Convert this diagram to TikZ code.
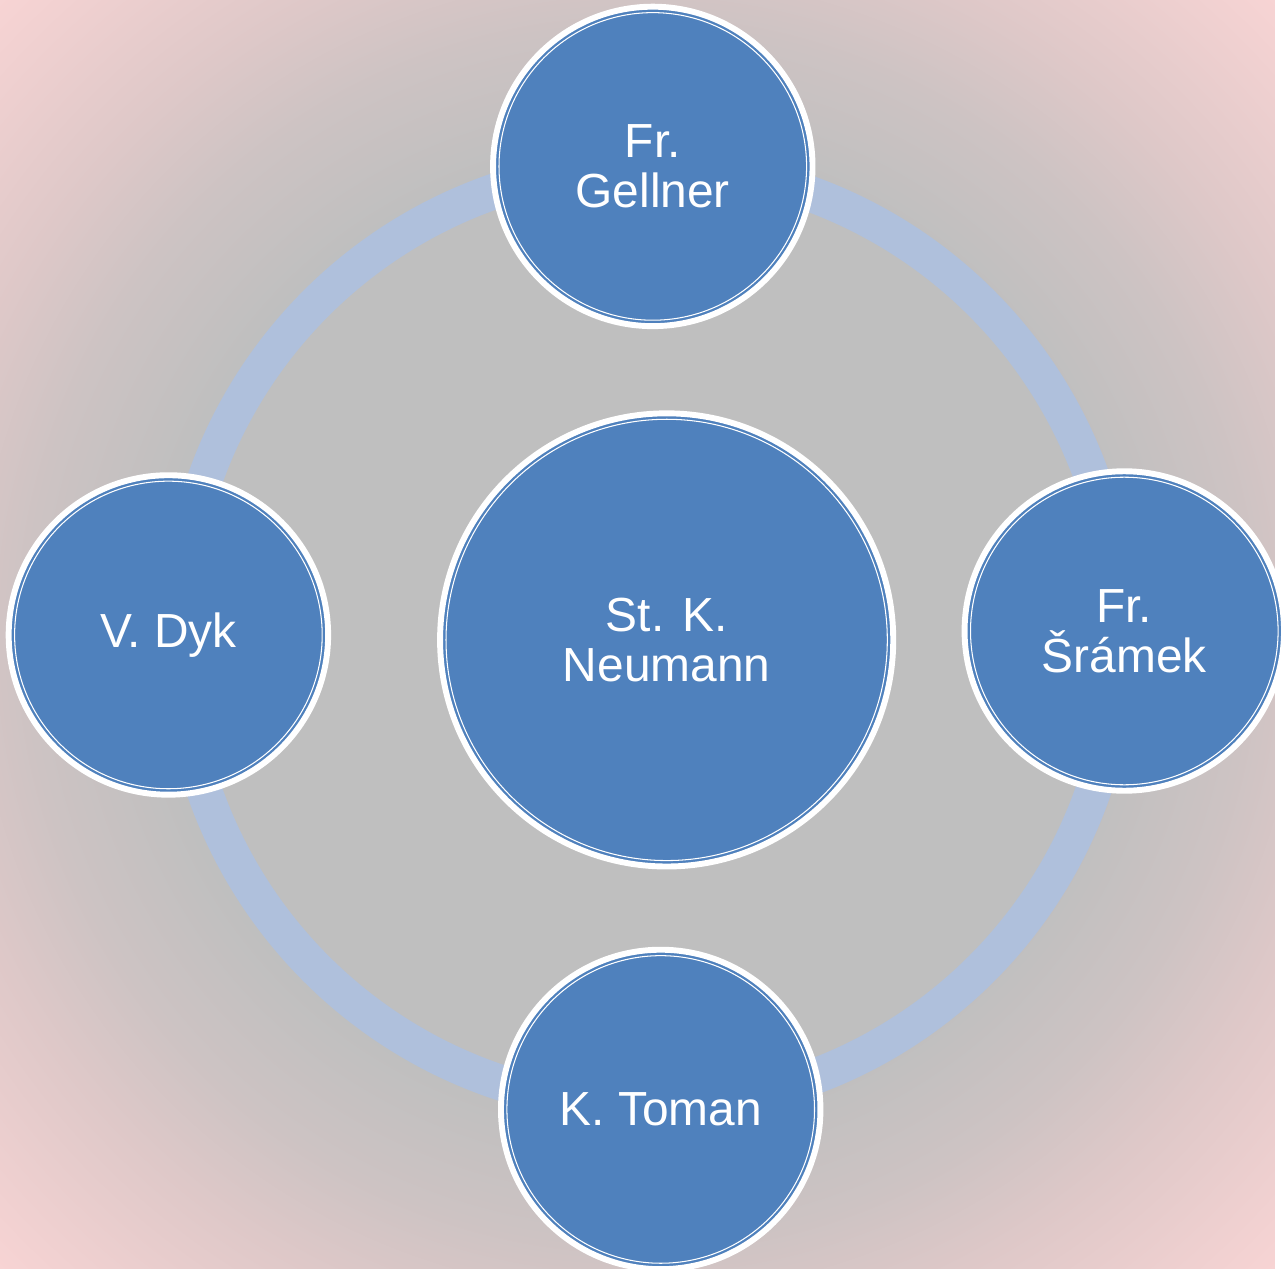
\documentclass[tikz,border=0pt]{standalone}
\usepackage{fontspec}
\setmainfont{Liberation Sans}
\usepackage{tikz}

\definecolor{bggray}{RGB}{191,191,191}
\definecolor{bgmid}{RGB}{205,195,195}
\definecolor{bgrose}{RGB}{222,200,200}
\definecolor{bgpink}{RGB}{248,212,212}
\definecolor{ringblue}{RGB}{175,192,220}
\definecolor{nodeblue}{RGB}{79,129,189}

\pgfdeclareradialshading{bgshade}{\pgfpoint{0bp}{0bp}}{%
  color(0bp)=(bggray); color(19bp)=(bggray); color(24bp)=(bgmid); color(28bp)=(bgrose);
  color(35.5bp)=(bgpink); color(50bp)=(bgpink)}

\begin{document}
\begin{tikzpicture}
    \fill[shading=bgshade] (0,0) rectangle (25.74,-25.62);

    \node (cycle) [circle, draw=ringblue, line width=0.72cm, minimum size=19cm] at (13.10,-12.84) {};

\begin{scope}[every node/.style={circle,fill=nodeblue,draw=white,line width=3.4pt,
        text=white,align=center,inner sep=0pt,font=\fontsize{27.5}{28.5}\selectfont},
    person/.style={minimum size=#1,
        path picture={\draw[white,line width=0.6pt] (path picture bounding box.center) circle[radius=#1/2-0.12cm];}}]
    \node[person=9.15cm] (neumann) at (13.46,-12.92){St. K.\\Neumann};
    \node[person=6.45cm] (gellner) at (13.18,-3.36){Fr.\\Gellner};
    \node[person=6.45cm] (sramek) at (22.70,-12.74){Fr.\\Šrámek};
    \node[person=6.45cm] (toman) at (13.34,-22.40){K. Toman};
    \node[person=6.45cm] (dyk) at (3.40,-12.82){V. Dyk};
\end{scope}

\end{tikzpicture}
\end{document}
